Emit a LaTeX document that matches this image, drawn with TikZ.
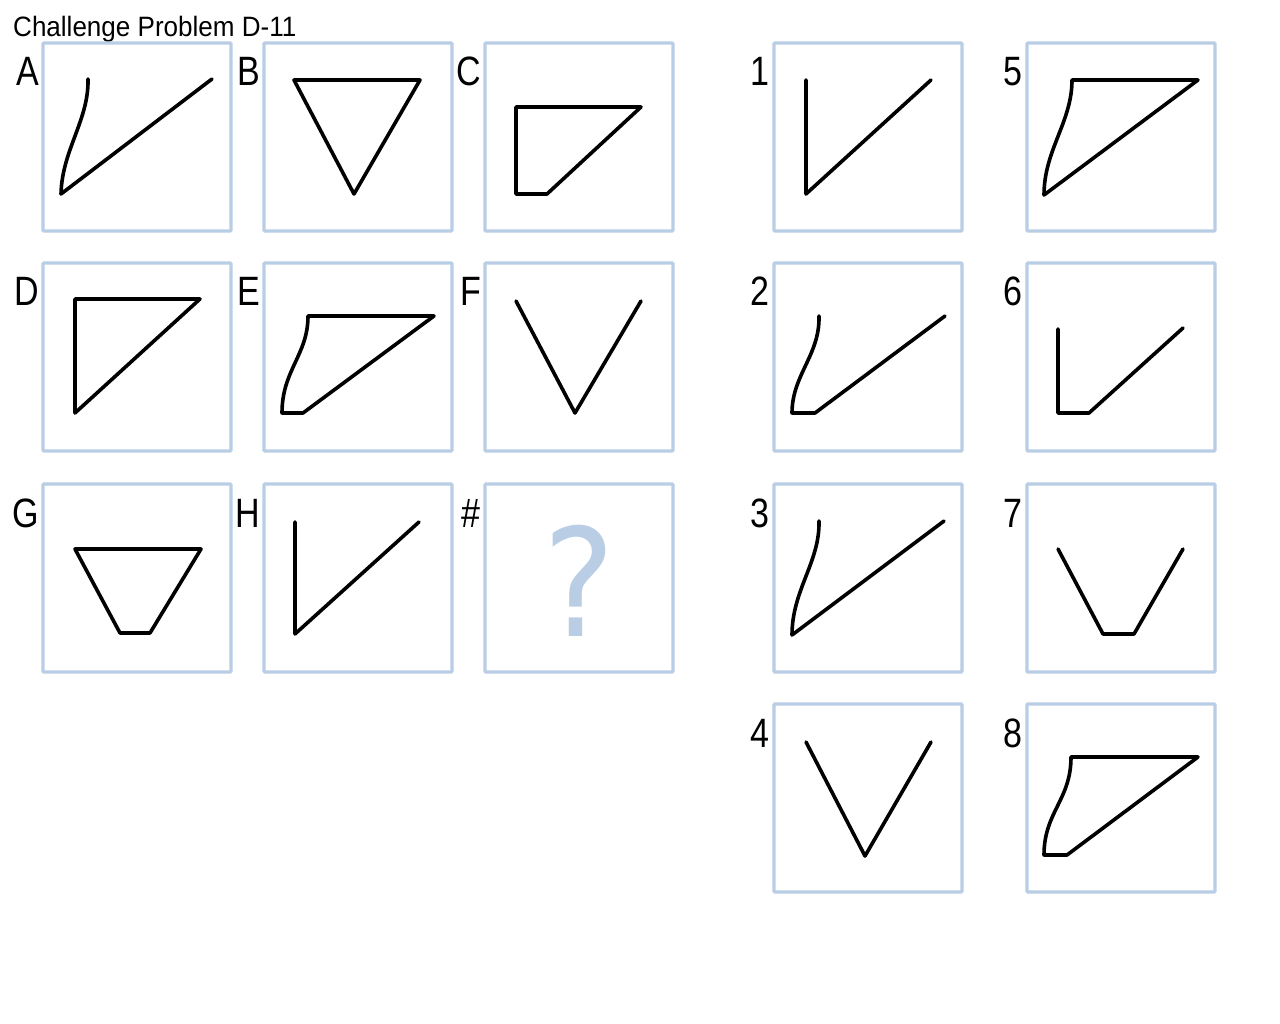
\documentclass[tikz,border=0pt]{standalone}
\usepackage{fontspec}
\setmainfont{Liberation Sans}
\newfontfamily\lblfont[FakeStretch=0.83]{Liberation Sans}
\newfontfamily\titlefont[FakeStretch=0.93]{Liberation Sans}
\newfontfamily\qfont[FakeStretch=0.9]{DejaVu Sans}
\definecolor{boxblue}{RGB}{185,205,228}
\tikzset{
  panel/.style={draw=boxblue,line width=3.4pt,rounded corners=1pt},
  fig/.style={line width=3.6pt,line join=round,line cap=round},
  lbl/.style={anchor=base east,inner sep=0pt,font=\lblfont\fontsize{41}{41}\selectfont}
}

\begin{document}
\begin{tikzpicture}[x=1pt,y=-1pt]
\useasboundingbox (0,0) rectangle (1280,1024);
\node[anchor=base west,inner sep=0pt,font=\titlefont\fontsize{28}{28}\selectfont] (title) at (13,37) {Challenge Problem D-11};
\foreach \x/\y/\t/\n in {43/43/A/a, 264/43/B/b, 485/43/C/c, 43/263/D/d, 264/263/E/e, 485/263/F/f, 43/484/G/g, 264/484/H/h, 485/484/\#/q,
  774/43/1/one, 774/263/2/two, 774/484/3/three, 774/704/4/four, 1027/43/5/five, 1027/263/6/six, 1027/484/7/seven, 1027/704/8/eight}
{
  \draw[panel] (\x,\y) rectangle ++(188,188);
  \node[lbl] (lbl-\n) at (\x-4,\y+43) {\t};
}
\draw[fig] (88,79) .. controls (89,120) and (62,150) .. (61,194) -- (212,79);
\draw[fig] (294,80) -- (420,80) -- (354,194) -- cycle;
\draw[fig] (516,107) -- (641,107) -- (547,194) -- (516,194) -- cycle;
\draw[fig] (75,299) -- (200,299) -- (75,413) -- cycle;
\draw[fig] (282,413) .. controls (282,370) and (308,355) .. (308,316) -- (434,316) -- (303,413) -- cycle;
\draw[fig] (516,301) -- (575,413) -- (641,301);
\draw[fig] (75,549) -- (201,549) -- (150,633) -- (120,633) -- cycle;
\draw[fig] (295,522) -- (295,634) -- (419,522);
\node[font=\qfont\fontsize{150}{150}\selectfont,text=boxblue] (qmark) at (579,581) {?};
\draw[fig] (806,80) -- (806,194) -- (931,80);
\draw[fig] (819,316) .. controls (820,355) and (792,375) .. (792,413) -- (815,413) -- (945,316);
\draw[fig] (819,521) .. controls (820,562) and (792,590) .. (792,635) -- (944,521);
\draw[fig] (806,742) -- (865,856) -- (931,742);
\draw[fig] (1044,195) .. controls (1044,150) and (1072,122) .. (1072,80) -- (1198,80) -- cycle;
\draw[fig] (1058,329) -- (1058,413) -- (1089,413) -- (1183,328);
\draw[fig] (1058,549) -- (1103,634) -- (1134,634) -- (1183,549);
\draw[fig] (1044,855) .. controls (1044,812) and (1071,800) .. (1071,757) -- (1198,757) -- (1067,855) -- cycle;
\end{tikzpicture}
\end{document}
